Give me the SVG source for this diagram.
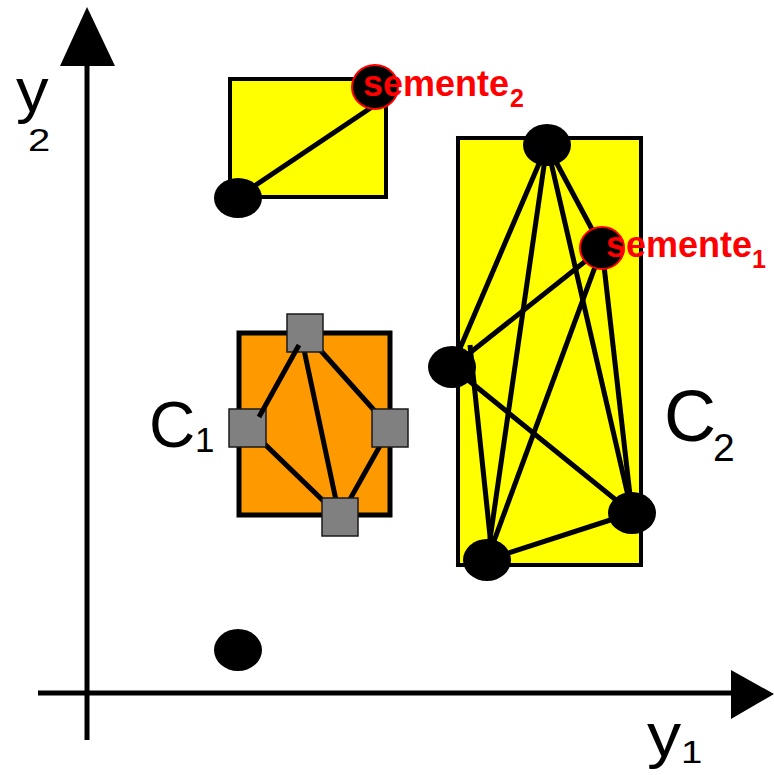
<svg xmlns="http://www.w3.org/2000/svg" width="774" height="775" viewBox="0 0 774 775">
<style>
.axis{stroke:#000;stroke-width:5;fill:none}
.edge{stroke:#000;stroke-width:5;fill:none}
.box{fill:#FFFF00;stroke:#000;stroke-width:4}
.obox{fill:#FF9900;stroke:#000;stroke-width:5}
.pt{fill:#000}
.seed{fill:#000;stroke:#FF0000;stroke-width:2}
.sq{fill:#808080;stroke:#1a1a1a;stroke-width:1.5}
.lbl{font-family:"Liberation Sans",Arial,sans-serif;fill:#000}
.red{font-family:"Liberation Sans",Arial,sans-serif;fill:#FF0000;font-weight:bold}
</style>
<rect width="774" height="775" fill="#fff"/>
<g id="axes">
<line class="axis" x1="87" y1="62" x2="87" y2="740"/>
<polygon points="87,7 60,66 115,66" fill="#000"/>
<line class="axis" x1="38" y1="693" x2="734" y2="693"/>
<polygon points="774,694 731,670 731,719" fill="#000"/>
<text class="lbl" x="16" y="111" font-size="62" transform="translate(16 0) scale(1.05 1) translate(-16 0)">y</text>
<text class="lbl" x="28" y="151" font-size="32" transform="translate(28 0) scale(1.25 1) translate(-28 0)">2</text>
<text class="lbl" x="647" y="756" font-size="62" transform="translate(647 0) scale(1.1 1) translate(-647 0)">y</text>
<text class="lbl" x="681" y="763" font-size="32" transform="translate(681 0) scale(1.2 1) translate(-681 0)">1</text>
</g>
<g id="cluster-top">
<rect class="box" x="230" y="79" width="156" height="118"/>
</g>
<g id="C2">
<rect class="box" x="458" y="138" width="183" height="427"/>
<text class="lbl" x="664" y="441" font-size="72">C</text>
<text class="lbl" x="713" y="461" font-size="39">2</text>
</g>
<g id="C1">
<rect class="obox" x="239" y="333" width="151" height="182"/>
<text class="lbl" x="149" y="447" font-size="64">C</text>
<text class="lbl" x="195" y="452" font-size="35">1</text>
</g>
<g id="connectors">
<line class="edge" x1="238" y1="197" x2="375" y2="105"/>
<line class="edge" x1="547" y1="145" x2="452" y2="367"/>
<line class="edge" x1="547" y1="145" x2="487" y2="560"/>
<line class="edge" x1="547" y1="145" x2="632" y2="513"/>
<line class="edge" x1="547" y1="145" x2="602" y2="248"/>
<line class="edge" x1="602" y1="248" x2="452" y2="367"/>
<line class="edge" x1="602" y1="248" x2="487" y2="560"/>
<line class="edge" x1="602" y1="248" x2="632" y2="513"/>
<line class="edge" x1="470" y1="345" x2="492" y2="555"/>
<line class="edge" x1="452" y1="367" x2="632" y2="513"/>
<line class="edge" x1="487" y1="560" x2="632" y2="513"/>
<line class="edge" x1="305" y1="333" x2="390" y2="428"/>
<line class="edge" x1="303" y1="345" x2="337" y2="505"/>
<line class="edge" x1="248" y1="428" x2="340" y2="517"/>
<line class="edge" x1="390" y1="428" x2="340" y2="517"/>
</g>
<g id="n-top-left"><ellipse class="pt" cx="238" cy="198" rx="24" ry="20"/></g>
<g id="n-seed2"><ellipse class="seed" cx="375" cy="87" rx="23" ry="22"/></g>
<g id="n-c2-top"><ellipse class="pt" cx="547" cy="145" rx="24" ry="21"/></g>
<g id="n-seed1"><ellipse class="seed" cx="602" cy="248" rx="22" ry="21"/></g>
<g id="n-c2-left"><ellipse class="pt" cx="452" cy="367" rx="24" ry="21"/></g>
<g id="n-c2-right"><ellipse class="pt" cx="632" cy="513" rx="24" ry="21"/></g>
<g id="n-c2-bottom"><ellipse class="pt" cx="487" cy="560" rx="24" ry="21"/></g>
<g id="n-lone"><ellipse class="pt" cx="238" cy="650" rx="24" ry="21"/></g>
<g id="sq-top"><rect class="sq" x="287" y="314" width="36" height="38"/></g>
<g id="sq-left"><rect class="sq" x="229" y="409" width="37" height="38"/></g>
<g id="sq-right"><rect class="sq" x="372" y="409" width="36" height="38"/></g>
<g id="sq-bottom"><rect class="sq" x="322" y="498" width="36" height="38"/></g>
<g id="edge-over"><line class="edge" x1="299" y1="345" x2="259" y2="417"/></g>
<g id="labels">
<text class="red" x="363" y="96" font-size="36">semente</text>
<text class="red" x="510" y="107" font-size="25">2</text>
<text class="red" x="606" y="257" font-size="36">semente</text>
<text class="red" x="752" y="268" font-size="25">1</text>
</g>
</svg>
